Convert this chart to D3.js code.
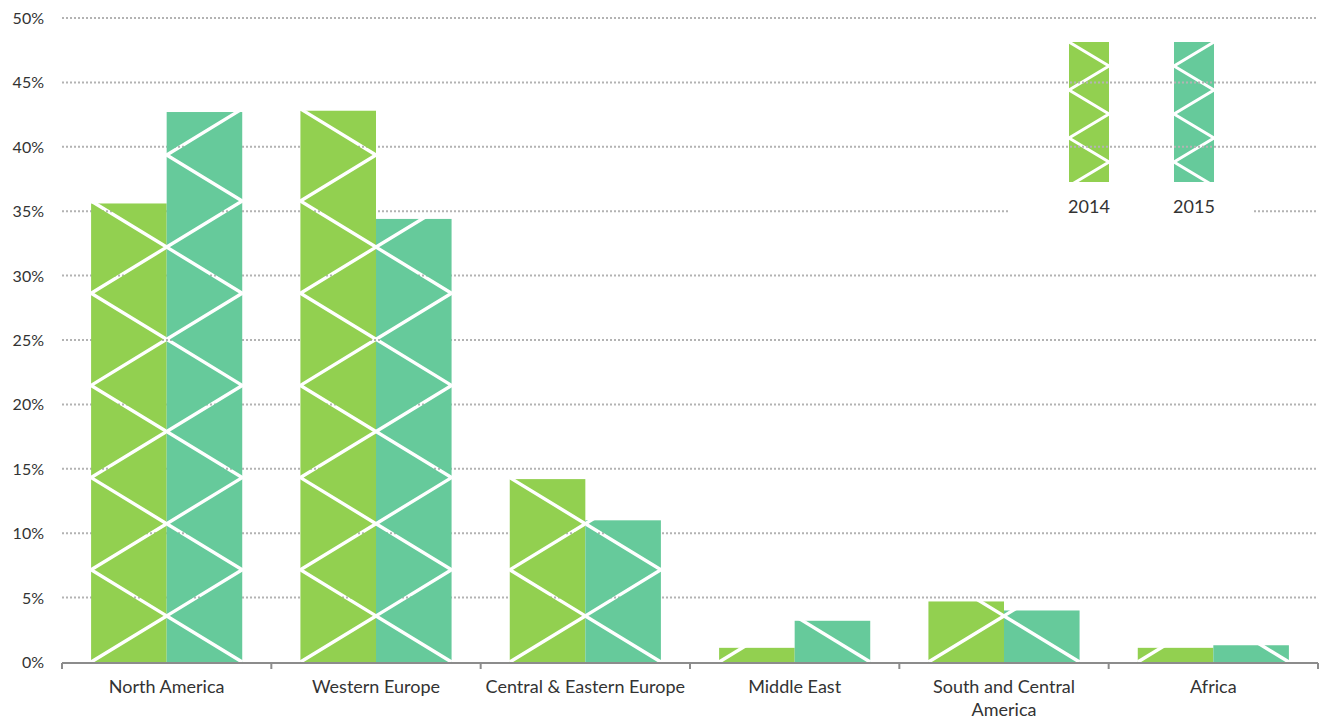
<!DOCTYPE html>
<html>
<head>
<meta charset="utf-8">
<script src="https://cdn.jsdelivr.net/npm/d3@7"></script>
<style>
  html, body { margin: 0; padding: 0; background: #fff; }
  svg { display: block; }
  text { font-family: Lato, "Open Sans", "DejaVu Sans", sans-serif; fill: #333; }
</style>
</head>
<body>
<svg id="chart" width="1320" height="719"></svg>
<script>
const categories = ["North America", "Western Europe", "Central & Eastern Europe", "Middle East", "South and Central America", "Africa"];
const series = ["2014", "2015"];
const values2014 = [35.6, 42.8, 14.2, 1.1, 4.7, 1.1];
const values2015 = [42.7, 34.4, 11.0, 3.2, 4.0, 1.3];
const yTicks = [0, 5, 10, 15, 20, 25, 30, 35, 40, 45, 50];
const colors = ["#92D050", "#66CA9B"];

const svg = d3.select("#chart");
const defs = svg.append("defs");

const y = d3.scaleLinear().domain([0, 50]).range([662, 18]);
const x0 = d3.scaleBand().domain(categories).range([62, 1318]).padding(0);
const bw = x0.bandwidth();
const x1 = d3.scaleBand().domain(series).range([bw * 0.139, bw * 0.861]).padding(0);

// zigzag point generator: bounces between left and right edges
function zigzag(xl, xr, yStart, yEnd, dir, h, startLeft) {
  const pts = [];
  let yy = yStart, left = startLeft;
  let guard = 0;
  while (guard++ < 200) {
    pts.push([left ? xl : xr, yy]);
    if ((dir < 0 && yy < yEnd) || (dir > 0 && yy > yEnd)) break;
    yy += dir * h;
    left = !left;
  }
  return pts;
}
const line = d3.line();

// ---------- Legend (beneath gridlines) ----------
const legendX = d3.scaleOrdinal().domain(series).range([1069, 1174]);
const legW = 40, legTop = 42, legBottom = 182;
series.forEach((s, i) => {
  const lx = legendX(s);
  const cid = "legclip" + i;
  defs.append("clipPath").attr("id", cid)
    .append("rect").attr("x", lx).attr("y", legTop).attr("width", legW).attr("height", legBottom - legTop);
  const g = svg.append("g").attr("clip-path", `url(#${cid})`);
  g.append("rect").attr("x", lx).attr("y", legTop).attr("width", legW).attr("height", legBottom - legTop)
    .attr("fill", colors[i]);
  g.append("path")
    .attr("d", line(zigzag(lx, lx + legW, legTop, legBottom, 1, legW * 0.6, i === 0)))
    .attr("fill", "none").attr("stroke", "#fff").attr("stroke-width", 3).attr("stroke-linejoin", "miter");
});

// ---------- Gridlines ----------
svg.append("g").selectAll("line").data(yTicks.filter(d => d > 0)).join("line")
  .attr("x1", 62).attr("x2", 1318)
  .attr("y1", d => y(d)).attr("y2", d => y(d))
  .attr("stroke", "#b3b3b3").attr("stroke-width", 2).attr("stroke-dasharray", "2,2");

// legend label background + labels
svg.append("rect").attr("x", 1010).attr("y", 190).attr("width", 243).attr("height", 32).attr("fill", "#fff");
svg.append("g").selectAll("text").data(series).join("text")
  .attr("x", d => legendX(d) + legW / 2).attr("y", 213)
  .attr("text-anchor", "middle").attr("font-size", 18)
  .text(d => d);

// ---------- Y axis labels ----------
svg.append("g").selectAll("text").data(yTicks).join("text")
  .attr("x", 44).attr("y", d => y(d) + 6)
  .attr("text-anchor", "end").attr("font-size", 16)
  .text(d => d + "%");

// ---------- Bars with transparent zigzag stripes ----------
const barData = [];
categories.forEach((c, ci) => {
  [values2014, values2015].forEach((vals, si) => {
    barData.push({ cat: c, ser: series[si], si: si, v: vals[ci], id: ci * 2 + si });
  });
});

barData.forEach(d => {
  const bx = x0(d.cat) + x1(d.ser);
  const w = x1.bandwidth();
  const top = y(d.v), bottom = y(0);
  const mid = "barmask" + d.id;
  const m = defs.append("mask").attr("id", mid).attr("maskUnits", "userSpaceOnUse")
    .attr("x", bx - 5).attr("y", top - 5).attr("width", w + 10).attr("height", bottom - top + 10);
  m.append("rect").attr("x", bx - 5).attr("y", top - 5).attr("width", w + 10).attr("height", bottom - top + 10).attr("fill", "#fff");
  m.append("path")
    .attr("d", line(zigzag(bx, bx + w, bottom, top, -1, w * 0.61, d.si === 0)))
    .attr("fill", "none").attr("stroke", "#000").attr("stroke-width", 3.4);
  svg.append("rect")
    .attr("x", bx).attr("y", top).attr("width", w).attr("height", bottom - top)
    .attr("fill", colors[d.si]).attr("mask", `url(#${mid})`);
});

// ---------- X axis ----------
const axisG = svg.append("g");
axisG.append("line").attr("x1", 62).attr("x2", 1318).attr("y1", 663).attr("y2", 663)
  .attr("stroke", "#8c8c8c").attr("stroke-width", 2);
const tickPos = categories.map(c => x0(c)).concat([x0(categories[categories.length - 1]) + bw]);
axisG.selectAll("line.tick").data(tickPos).join("line").attr("class", "tick")
  .attr("x1", d => d).attr("x2", d => d).attr("y1", 663).attr("y2", 669)
  .attr("stroke", "#8c8c8c").attr("stroke-width", 2);

const labels = svg.append("g").selectAll("text").data(categories).join("text")
  .attr("x", d => x0(d) + bw / 2).attr("y", 693)
  .attr("text-anchor", "middle").attr("font-size", 18);

labels.each(function(d) {
  const t = d3.select(this);
  const words = d.split(" ");
  let lineWords = [];
  let tspan = t.append("tspan").attr("x", x0(d) + bw / 2).attr("dy", 0);
  words.forEach(wd => {
    lineWords.push(wd);
    tspan.text(lineWords.join(" "));
    if (tspan.node().getComputedTextLength() > 205 && lineWords.length > 1) {
      lineWords.pop();
      tspan.text(lineWords.join(" "));
      lineWords = [wd];
      tspan = t.append("tspan").attr("x", x0(d) + bw / 2).attr("dy", 23).text(wd);
    }
  });
});
</script>
</body>
</html>
